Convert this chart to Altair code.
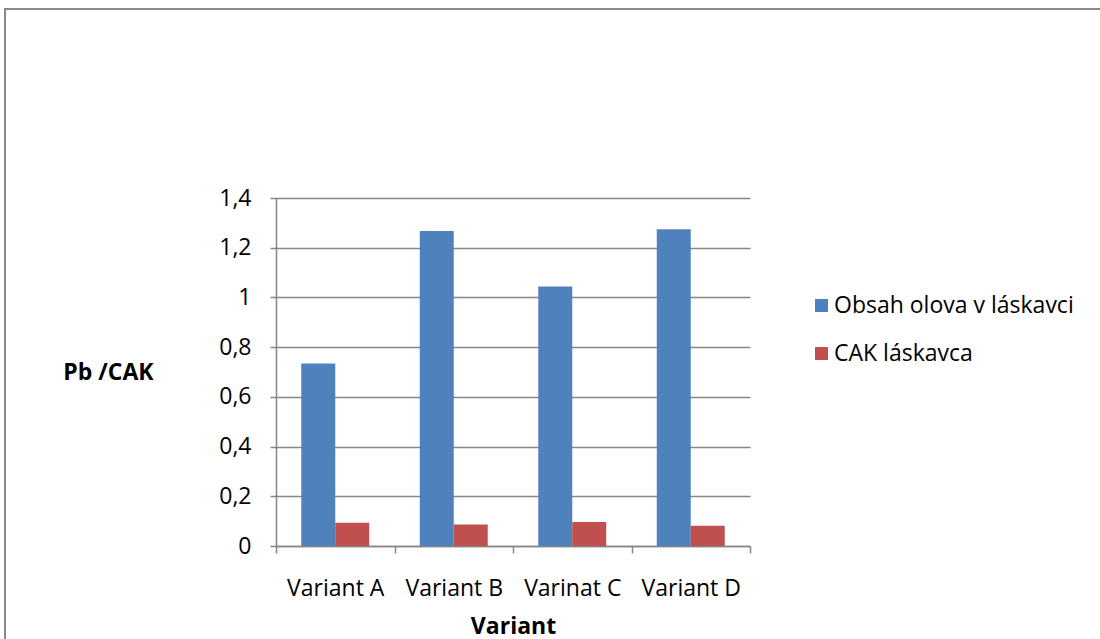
import altair as alt
import pandas as pd

variants = ["Variant A", "Variant B", "Varinat C", "Variant D"]
series = ["Obsah olova v láskavci", "CAK láskavca"]
lead_content = [0.734, 1.267, 1.044, 1.274]
cak_values = [0.094, 0.086, 0.097, 0.081]
y_ticks = [0, 0.2, 0.4, 0.6, 0.8, 1.0, 1.2, 1.4]
colors = ["#4F81BD", "#C0504D"]

rows = []
for v, a, b in zip(variants, lead_content, cak_values):
    rows.append({"variant": v, "series": series[0], "value": a})
    rows.append({"variant": v, "series": series[1], "value": b})
df = pd.DataFrame(rows)

FONT = "Open Sans"
FS = 23
PLOT_LEFT, PLOT_TOP = 276, 198
W, H = 474, 348

bars = alt.Chart(df).mark_bar().encode(
    x=alt.X(
        "variant:N",
        sort=variants,
        scale=alt.Scale(paddingInner=0, paddingOuter=0),
        axis=alt.Axis(
            title="Variant",
            titleFontWeight="bold",
            titleFontSize=FS,
            titleFont=FONT,
            titleY=80,
            titleBaseline="middle",
            labelAngle=0,
            labelFont=FONT,
            labelFontSize=FS,
            labelColor="#000000",
            labelPadding=24,
            tickBand="extent",
            tickSize=7,
            tickColor="#868686",
            tickWidth=1.5,
            domainColor="#868686",
            domainWidth=1.5,
            grid=False,
        ),
    ),
    xOffset=alt.XOffset(
        "series:N",
        sort=series,
        scale=alt.Scale(paddingInner=0, paddingOuter=0.744),
    ),
    y=alt.Y(
        "value:Q",
        scale=alt.Scale(domain=[0, 1.4], nice=False),
        axis=alt.Axis(
            title="Pb /CAK",
            titleAngle=0,
            titleFont=FONT,
            titleFontSize=FS,
            titleFontWeight="bold",
            titleX=-168,
            titleY=174,
            titleAlign="center",
            titleBaseline="middle",
            values=y_ticks,
            labelExpr="replace(format(datum.value, '.1~f'), '.', ',')",
            labelFont=FONT,
            labelFontSize=FS,
            labelColor="#000000",
            labelPadding=19,
            tickSize=6,
            tickColor="#868686",
            tickWidth=1.5,
            domainColor="#868686",
            domainWidth=1.5,
            gridColor="#868686",
            gridWidth=1.5,
        ),
    ),
    color=alt.Color(
        "series:N",
        scale=alt.Scale(domain=series, range=colors),
        legend=alt.Legend(
            title=None,
            orient="none",
            legendX=534,
            legendY=96,
            symbolType="square",
            symbolSize=169,
            symbolStrokeWidth=0,
            labelFont=FONT,
            labelFontSize=FS,
            labelColor="#000000",
            labelOffset=1,
            labelLimit=400,
            rowPadding=24,
        ),
    ),
)

# outer chart frame
frame = alt.Chart(alt.Data(values=[{}])).mark_rect(
    fill=None, stroke="#8a8a8a", strokeWidth=2
).encode(
    x=alt.value(5 - PLOT_LEFT),
    y=alt.value(9 - PLOT_TOP),
    x2=alt.value(1110 - PLOT_LEFT),
    y2=alt.value(650 - PLOT_TOP),
)

chart = alt.layer(bars, frame).properties(
    width=W,
    height=H,
    autosize=alt.AutoSizeParams(type="none"),
    padding={"left": PLOT_LEFT, "top": PLOT_TOP, "right": 1100 - PLOT_LEFT - W, "bottom": 639 - PLOT_TOP - H},
    background="#ffffff",
).configure_view(stroke=None)

chart.save("out.html", embed_options={"renderer": "svg", "actions": False})
